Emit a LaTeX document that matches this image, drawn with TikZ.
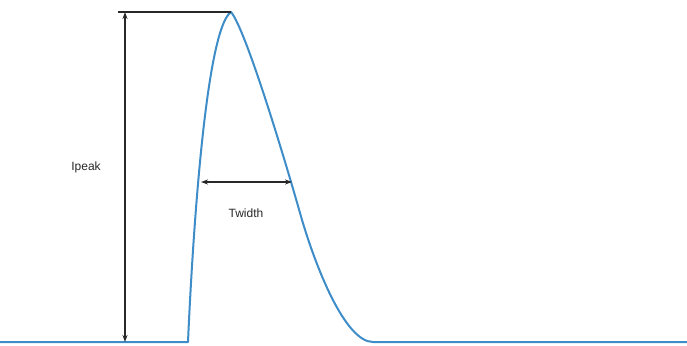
\documentclass[tikz,border=0pt]{standalone}
\usepackage{fontspec}
\setmainfont{Liberation Sans}
\usetikzlibrary{arrows.meta}
\definecolor{pulse}{RGB}{62,140,200}
\definecolor{dim}{RGB}{40,40,40}
\begin{document}
\begin{tikzpicture}[x=1pt,y=-1pt,
  pulseline/.style={pulse,line width=2pt,line join=round},
  dimline/.style={dim,line width=1.3pt},
  dimarrow/.style={dimline,{Stealth[length=7pt,width=5pt]}-{Stealth[length=7pt,width=5pt]}},
  lbl/.style={font=\fontsize{12}{13}\selectfont,text=dim,inner sep=1pt}]
\useasboundingbox (0,0) rectangle (687,345);
% key points
\coordinate (start) at (0,342);
\coordinate (rise) at (188,342);
\coordinate (peak) at (231,12);
\coordinate (mid) at (300,213);
\coordinate (fall) at (373,342);
\coordinate (end) at (687,342);
\coordinate (topL) at (118,12);
\coordinate (arrTop) at (125,12);
\coordinate (arrBot) at (125,342);
\coordinate (wL) at (201,182);
\coordinate (wR) at (292,182);
% pulse
\draw[pulseline] (start) -- (rise)
  .. controls (192,250) and (205,30) .. (peak)
  .. controls (246,30) and (285,160) .. (mid)
  .. controls (315,266) and (345,342) .. (fall)
  -- (end);
% dimensions
\draw[dimline] (topL) -- (peak);
\draw[dimarrow] (arrTop) -- (arrBot);
\draw[dimarrow] (wL) -- (wR);
\node[lbl] (ipeak) at (86,167) {Ipeak};
\node[lbl] (twidth) at (246,213) {Twidth};
\end{tikzpicture}
\end{document}
